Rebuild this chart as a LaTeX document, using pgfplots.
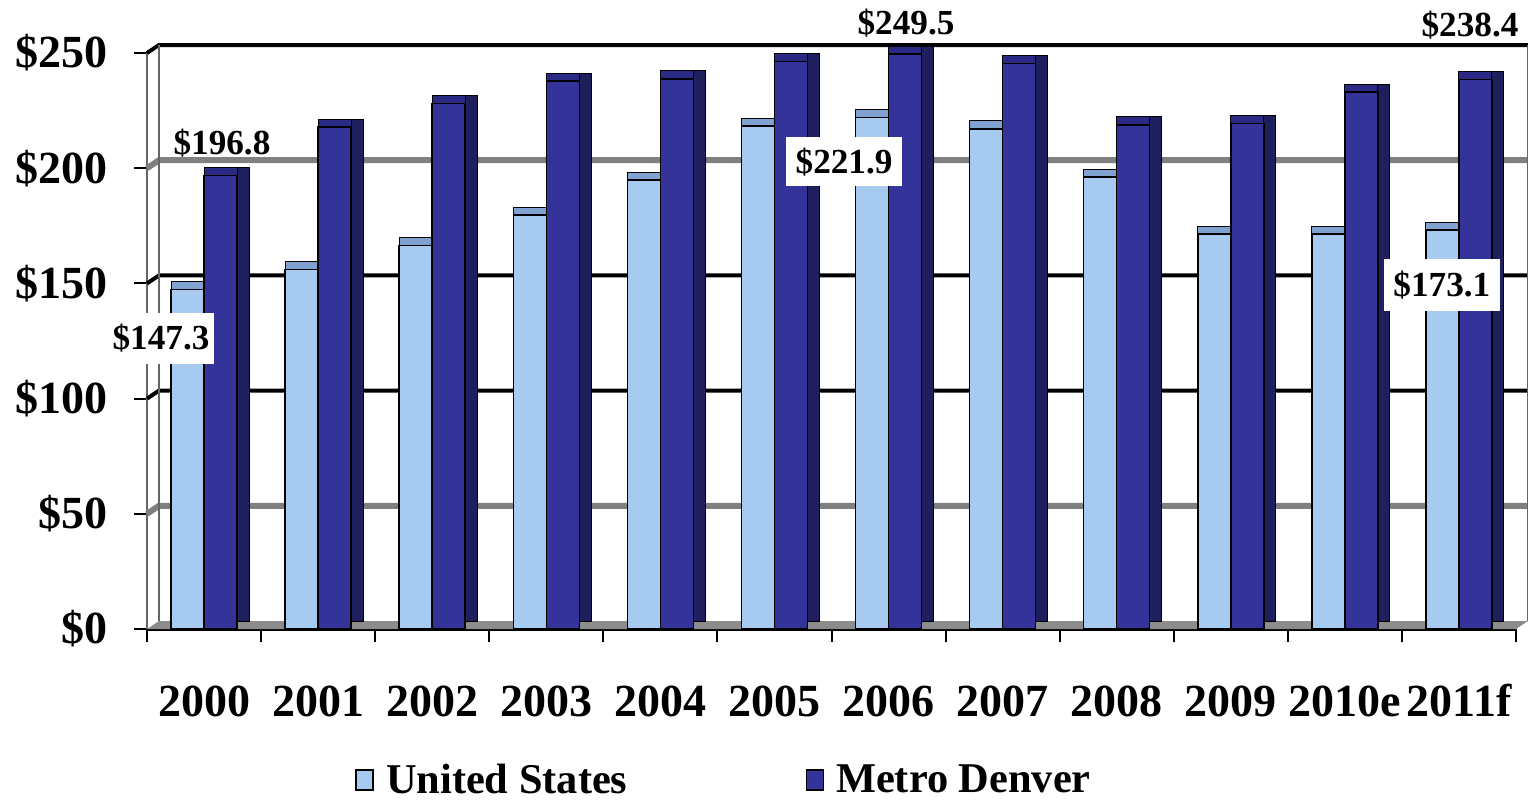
\documentclass[border=0pt]{standalone}
\usepackage{fontspec}
\setmainfont{Liberation Serif}
\usepackage{pgfplots}
\pgfplotsset{compat=1.18}
\usepackage{pgfplotstable}

\definecolor{usfront}{HTML}{A6CAF0}
\definecolor{ustop}{HTML}{7FA2D0}
\definecolor{usside}{HTML}{5F7FA8}
\definecolor{dvfront}{HTML}{333399}
\definecolor{dvtop}{HTML}{2A2A85}
\definecolor{dvside}{HTML}{1F1F5E}

\pgfplotstableread{
x us dv
0 147.3 196.8
1 156.1 217.8
2 166.5 228.0
3 179.6 237.8
4 194.8 238.8
5 218.3 246.4
6 221.9 249.5
7 217.1 245.4
8 196.1 218.8
9 171.4 219.3
10 171.4 233.0
11 173.1 238.4
}\datatable

\begin{document}
\begin{tikzpicture}
\useasboundingbox (0,0) rectangle (764pt,400pt);
\begin{axis}[
  at={(73.5pt,85.5pt)}, anchor=south west,
  scale only axis, width=684.5pt, height=288pt,
  xmin=-0.5, xmax=11.5, ymin=0, ymax=250,
  clip=false,
  axis x line*=bottom, axis y line*=left,
  x axis line style={line width=1.5pt,-},
  y axis line style={draw=black!60,line width=1pt,-},
  tick align=outside,
  major tick length=6.5pt,
  tick style={black,line width=1pt},
  ytick={0,50,100,150,200,250},
  yticklabels={\$0,\$50,\$100,\$150,\$200,\$250},
  yticklabel style={font=\fontsize{23pt}{23pt}\selectfont\bfseries,anchor=east,inner sep=0pt,xshift=-13pt},
  xtick={-0.5,0.5,1.5,2.5,3.5,4.5,5.5,6.5,7.5,8.5,9.5,10.5,11.5},
  xticklabels={},
  extra x ticks={0,1,2,3,4,5,6,7,8,9,10,11},
  extra x tick labels={2000,2001,2002,2003,2004,2005,2006,2007,2008,2009,2010e,2011f},
  extra x tick style={major tick length=0pt,
    xticklabel style={font=\fontsize{23pt}{23pt}\selectfont\bfseries,anchor=base,inner sep=0pt,yshift=-43.5pt}},
  legend image code/.code={\draw[#1,line width=0.8pt] (0pt,-5pt) rectangle (8.5pt,5pt);},
  legend style={at={(0.152,-0.262)},anchor=west,draw=none,legend columns=2,inner sep=0pt,
    font=\fontsize{21.2pt}{21.2pt}\selectfont\bfseries,
    /tikz/every odd column/.append style={column sep=4pt},
    /tikz/every even column/.append style={column sep=87pt}},
]
% floor
\fill[black!45] (axis cs:-0.5,0) -- (axis cs:11.5,0) -- ([shift={(6pt,4pt)}]axis cs:11.5,0) -- ([shift={(6pt,4pt)}]axis cs:-0.5,0) -- cycle;
% back-wall grid
\foreach \v/\c/\w in {50/black!50/3pt,100/black/2pt,150/black/2pt,200/black!50/3pt,250/black/2pt}{
  \edef\tmp{\noexpand\draw[\c,line width=\w] (axis cs:-0.5,\v) -- ([shift={(6pt,4pt)}]axis cs:-0.5,\v) -- ([shift={(6pt,4pt)}]axis cs:11.5,\v);}
  \tmp
}
\draw[black!60,line width=1pt] ([shift={(6pt,4pt)}]axis cs:-0.5,0) -- ([shift={(6pt,4pt)}]axis cs:-0.5,250);
\draw[black!60,line width=1pt] ([shift={(6pt,4pt)}]axis cs:11.5,0) -- ([shift={(6pt,4pt)}]axis cs:11.5,250);

% United States bars
\addplot[ybar,forget plot,bar width=16.5pt,bar shift=-2.5pt,yshift=4pt,fill=usside,draw=black,line width=0.5pt] table[x=x,y=us]{\datatable};
\addplot[ybar,forget plot,bar width=16.5pt,bar shift=-8.25pt,yshift=4pt,fill=ustop,draw=black,line width=0.5pt] table[x=x,y=us]{\datatable};
\addplot[ybar,bar width=16.5pt,bar shift=-8.25pt,fill=usfront,draw=black,line width=0.75pt] table[x=x,y=us]{\datatable};
\addlegendentry{United States}
% Metro Denver bars
\addplot[ybar,forget plot,bar width=16.5pt,bar shift=14.25pt,yshift=4pt,fill=dvside,draw=black,line width=0.5pt] table[x=x,y=dv]{\datatable};
\addplot[ybar,forget plot,bar width=16.5pt,bar shift=8.25pt,yshift=4pt,fill=dvtop,draw=black,line width=0.5pt] table[x=x,y=dv]{\datatable};
\addplot[ybar,bar width=16.5pt,bar shift=8.25pt,fill=dvfront,draw=black,line width=0.75pt] table[x=x,y=dv]{\datatable};
\addlegendentry{Metro Denver}

% data labels
\node[font=\fontsize{17.6pt}{17.6pt}\selectfont\bfseries,inner sep=0pt] at (axis cs:0.157,210.9) {\$196.8};
\node[font=\fontsize{17.6pt}{17.6pt}\selectfont\bfseries,inner sep=0pt,fill=white,minimum width=52.5pt,minimum height=25.5pt] at (axis cs:-0.377,126.3) {\$147.3};
\node[font=\fontsize{17.6pt}{17.6pt}\selectfont\bfseries,inner sep=0pt] at (axis cs:6.153,263.0) {\$249.5};
\node[font=\fontsize{17.6pt}{17.6pt}\selectfont\bfseries,inner sep=0pt,fill=white,minimum width=58pt,minimum height=24.5pt] at (axis cs:5.61,202.7) {\$221.9};
\node[font=\fontsize{17.6pt}{17.6pt}\selectfont\bfseries,inner sep=0pt,fill=white,minimum width=58pt,minimum height=26pt] at (axis cs:10.85,149.3) {\$173.1};
\node[font=\fontsize{17.6pt}{17.6pt}\selectfont\bfseries,inner sep=0pt] at (axis cs:11.097,262.2) {\$238.4};
\end{axis}
\end{tikzpicture}
\end{document}
